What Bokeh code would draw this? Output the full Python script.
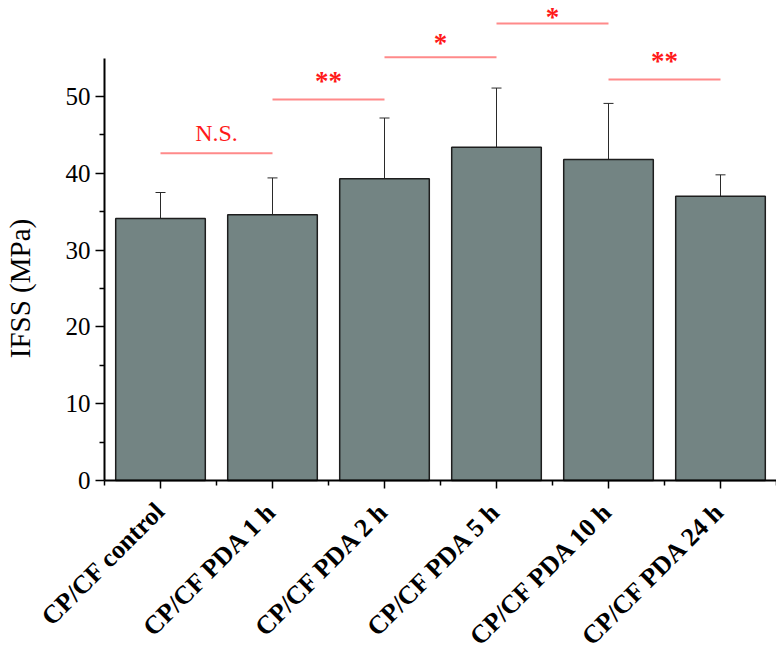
import math
from bokeh.plotting import figure
from bokeh.models import ColumnDataSource, Whisker, TeeHead, FixedTicker, Range1d
from bokeh.core.properties import value
from bokeh.embed import file_html
from bokeh.resources import INLINE

categories = ["CP/CF control", "CP/CF PDA 1 h", "CP/CF PDA 2 h",
              "CP/CF PDA 5 h", "CP/CF PDA 10 h", "CP/CF PDA 24 h"]
ifss = [34.1, 34.6, 39.3, 43.4, 41.8, 37.0]
err_upper = [37.5, 39.4, 47.2, 51.1, 49.1, 39.8]
err_lower = [30.6, 29.8, 31.3, 35.6, 34.6, 34.3]

y_ticks = [0, 10, 20, 30, 40, 50]
y_minor_ticks = [5, 15, 25, 35, 45]

sig_from = [0, 1, 2, 3, 4]
sig_to = [1, 2, 3, 4, 5]
sig_level = [42.6, 49.6, 55.1, 59.5, 52.2]
sig_text = ["N.S.", "**", "*", "*", "**"]

FONT = "Liberation Serif"

W, H = 776, 651
X0_PX, UNIT_X = 104, 112.0     # canvas x of left axis, px per category
Y0_PX, UNIT_Y = 480, 7.68      # canvas y of zero line, px per MPa

xs = [i + 1 for i in range(len(categories))]
src = ColumnDataSource(dict(x=xs, top=ifss, upper=err_upper, lower=err_lower))

x_start = 0.5 - X0_PX / UNIT_X
x_end = 0.5 + (W - X0_PX) / UNIT_X
y_end = Y0_PX / UNIT_Y
y_start = -(H - Y0_PX) / UNIT_Y

p = figure(width=W, height=H, output_backend="svg", toolbar_location=None,
           x_range=Range1d(x_start, x_end), y_range=Range1d(y_start, y_end),
           min_border_left=0, min_border_right=0, min_border_top=0, min_border_bottom=0)
p.outline_line_color = None
p.xgrid.visible = False
p.ygrid.visible = False
p.background_fill_color = "white"
p.border_fill_color = "white"

p.vbar(x="x", top="top", width=0.8, bottom=0, source=src,
       fill_color="#738483", line_color="#1e1e1e", line_width=1.5)

wh = Whisker(source=src, base="x", upper="upper", lower="lower",
             line_color="#2a2a2a", line_width=1,
             upper_head=TeeHead(size=10, line_color="#2a2a2a", line_width=1),
             lower_head=TeeHead(size=10, line_color="#2a2a2a", line_width=1))
p.add_layout(wh)

# significance brackets
sx0 = [xs[i] for i in sig_from]
sx1 = [xs[j] for j in sig_to]
p.segment(x0=sx0, y0=sig_level, x1=sx1, y1=sig_level, line_color="#ff8a8a", line_width=2)

mids = [(a + b) / 2 for a, b in zip(sx0, sx1)]
gap_px = {"N.S.": 20.0, "*": 14.0, "**": 19.0}
y_text_max = y_end - 16.0 / UNIT_Y   # keep the topmost mark inside the canvas


def text_y(k):
    return min(sig_level[k] + gap_px[sig_text[k]] / UNIT_Y, y_text_max)


ns_idx = [k for k, t in enumerate(sig_text) if t == "N.S."]
st_idx = [k for k, t in enumerate(sig_text) if t != "N.S."]
p.text(x=[mids[k] for k in ns_idx], y=[text_y(k) for k in ns_idx],
       text=[sig_text[k] for k in ns_idx], text_align="center",
       text_baseline="alphabetic", text_font=value(FONT),
       text_font_size="24px", text_color="#ff1a1a")
p.text(x=[mids[k] for k in st_idx], y=[text_y(k) for k in st_idx],
       text=[sig_text[k] for k in st_idx], text_align="center",
       text_baseline="alphabetic", text_font=value(FONT),
       text_font_size="27px", text_font_style="bold", text_color="#ff1a1a")

# y axis label as text inside the frame
p.text(x=[0.5 - (X0_PX - 19) / UNIT_X], y=[(Y0_PX - 288) / UNIT_Y], text=["IFSS (MPa)"],
       angle=math.pi / 2, text_align="center", text_baseline="middle",
       text_font=value(FONT), text_font_size="29px", text_color="black")

# y axis
ya = p.yaxis[0]
ya.fixed_location = 0.5
ya.ticker = FixedTicker(ticks=y_ticks, minor_ticks=y_minor_ticks)
ya.bounds = (0, 55)
ya.axis_line_width = 2
ya.axis_line_color = "black"
ya.major_tick_out = 9
ya.major_tick_in = 0
ya.minor_tick_out = 5
ya.minor_tick_in = 0
ya.major_tick_line_width = 1.5
ya.minor_tick_line_width = 1.5
ya.major_label_text_font = FONT
ya.major_label_text_font_size = "25px"
ya.major_label_text_color = "black"
ya.major_label_standoff = 5

# x axis
xa = p.xaxis[0]
xa.fixed_location = 0
xa.ticker = FixedTicker(ticks=xs, minor_ticks=[x + 0.5 for x in [0] + xs])
xa.bounds = (0.5, len(categories) + 0.5)
xa.major_label_overrides = {x: c for x, c in zip(xs, categories)}
xa.major_label_orientation = math.pi / 4
xa.axis_line_width = 2
xa.axis_line_color = "black"
xa.major_tick_out = 8
xa.major_tick_in = 0
xa.minor_tick_out = 5
xa.minor_tick_in = 0
xa.major_tick_line_width = 1.5
xa.minor_tick_line_width = 1.5
xa.major_label_text_font = FONT
xa.major_label_text_font_size = "26px"
xa.major_label_text_font_style = "bold"
xa.major_label_text_color = "black"
xa.major_label_standoff = 18

open("out.html", "w").write(file_html(p, INLINE))
